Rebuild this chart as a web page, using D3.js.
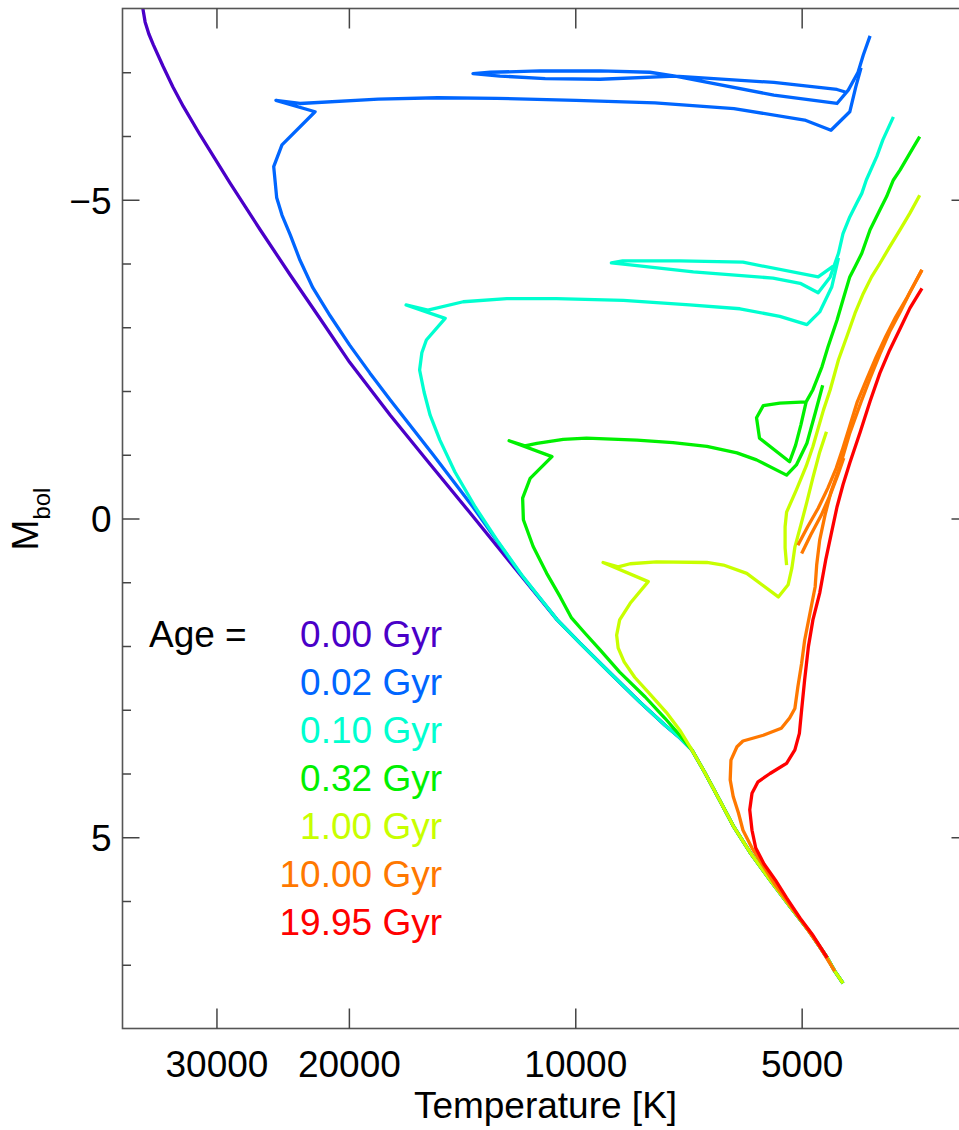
<!DOCTYPE html>
<html>
<head>
<meta charset="utf-8">
<script src="https://cdn.jsdelivr.net/npm/d3@7"></script>
<style>
body { margin: 0; background: #fff; }
text { font-family: "Liberation Sans", Arial, Helvetica, sans-serif; }
</style>
</head>
<body>
<div id="container"></div>
<script>
// isochrone ages and their colours
const ages = ["0.00", "0.02", "0.10", "0.32", "1.00", "10.00", "19.95"];
const colors = ["#4a00c8", "#0066ff", "#00ffd0", "#00f000", "#c8ff00", "#ff7800", "#ff0000"];

// axis ticks
const tempTicks = [30000, 20000, 10000, 5000];
const magMajor = [-5, 0, 5];
const magMinor = [-7, -6, -4, -3, -2, -1, 1, 2, 3, 4, 6, 7];

// log Teff / Mbol (low mass -> high mass)
// lower main sequence shared by the five youngest isochrones
const msLowT = [3.644, 3.655, 3.665, 3.688, 3.715, 3.741, 3.768, 3.790, 3.808, 3.828, 3.845];
const msLowM = [7.29, 7.10, 6.89, 6.49, 6.08, 5.67, 5.23, 4.82, 4.42, 3.98, 3.63];
// continuation shared by the three youngest
const msMidT = [3.861, 3.881, 3.914, 3.954, 3.994, 4.024];
const msMidM = [3.44, 3.24, 2.88, 2.42, 1.95, 1.59];

// 0.00 Gyr
const zamsT = [4.087, 4.140, 4.193, 4.246, 4.300, 4.339, 4.379, 4.419, 4.459, 4.499, 4.521, 4.535, 4.548, 4.561, 4.567, 4.572, 4.575];
const zamsM = [0.68, -0.09, -0.85, -1.62, -2.45, -3.13, -3.82, -4.53, -5.26, -6.02, -6.46, -6.77, -7.09, -7.43, -7.60, -7.79, -8.00];

// 0.02 Gyr
const a002T = [4.074, 4.136, 4.189, 4.246, 4.273, 4.300, 4.326, 4.349, 4.366, 4.379, 4.390, 4.397, 4.401, 4.390, 4.346, 4.398, 4.366, 4.262, 4.183, 4.104, 3.999, 3.894, 3.789, 3.695, 3.660, 3.635, 3.627, 3.620];
const a002M = [0.85, -0.18, -1.00, -1.86, -2.28, -2.72, -3.18, -3.62, -4.05, -4.45, -4.76, -5.03, -5.52, -5.86, -6.38, -6.56, -6.51, -6.58, -6.60, -6.59, -6.56, -6.52, -6.43, -6.25, -6.09, -6.38, -6.77, -7.07];
const a002bT = [3.641, 3.652, 3.736, 3.867, 3.967, 4.040, 4.100, 4.136, 4.113, 4.047, 3.967, 3.901, 3.867, 3.736, 3.652, 3.637, 3.624, 3.617, 3.608];
const a002bM = [-6.69, -6.73, -6.84, -6.94, -6.89, -6.90, -6.94, -6.98, -7.00, -7.02, -7.02, -7.00, -6.94, -6.64, -6.51, -6.72, -7.00, -7.27, -7.57];

// 0.10 Gyr
const a010T = [4.034, 4.071, 4.104, 4.133, 4.160, 4.180, 4.193, 4.201, 4.207, 4.204, 4.198, 4.173, 4.225, 4.196, 4.149, 4.091, 4.025, 3.936, 3.848, 3.781, 3.728, 3.692, 3.675, 3.659, 3.650];
const a010M = [1.44, 0.89, 0.34, -0.18, -0.73, -1.23, -1.62, -1.98, -2.33, -2.60, -2.80, -3.14, -3.35, -3.27, -3.40, -3.45, -3.45, -3.42, -3.35, -3.29, -3.17, -3.04, -3.24, -3.63, -4.09];
const a010bT = [3.657, 3.677, 3.777, 3.861, 3.937, 3.952, 3.927, 3.843, 3.737, 3.701, 3.677, 3.661, 3.650, 3.644, 3.635, 3.626, 3.619, 3.613, 3.599, 3.591, 3.577];
const a010bM = [-3.96, -3.79, -4.02, -4.04, -4.04, -4.01, -3.98, -3.87, -3.77, -3.69, -3.54, -3.79, -4.16, -4.47, -4.73, -4.94, -5.10, -5.31, -5.68, -5.94, -6.30];

// 0.32 Gyr
const a032T = [3.861, 3.881, 3.907, 3.941, 3.967, 3.987, 4.005, 4.020, 4.038, 4.056, 4.069, 4.070, 4.060, 4.031, 4.088, 4.067, 4.051, 4.016, 3.985, 3.918, 3.870, 3.825, 3.785, 3.759, 3.719, 3.706, 3.692, 3.681, 3.671];
const a032M = [3.40, 3.13, 2.80, 2.41, 2.06, 1.80, 1.56, 1.23, 0.86, 0.44, 0.02, -0.32, -0.63, -0.97, -1.22, -1.14, -1.18, -1.24, -1.26, -1.23, -1.19, -1.13, -1.03, -0.92, -0.68, -0.84, -1.18, -1.65, -2.09];
const a032bT = [3.693, 3.728, 3.750, 3.759, 3.755, 3.715, 3.707, 3.700, 3.693, 3.684, 3.672, 3.664, 3.652, 3.644, 3.635, 3.628, 3.619, 3.608, 3.595, 3.586, 3.577, 3.568, 3.555, 3.542];
const a032bM = [-1.83, -1.81, -1.77, -1.58, -1.26, -0.89, -1.15, -1.47, -1.83, -2.02, -2.38, -2.69, -3.11, -3.43, -3.79, -3.95, -4.16, -4.53, -4.84, -5.05, -5.31, -5.47, -5.73, -5.99];

// 1.00 Gyr
const a100T = [3.861, 3.879, 3.901, 3.921, 3.935, 3.943, 3.945, 3.941, 3.927, 3.903, 3.963, 3.943, 3.927, 3.892, 3.825, 3.803, 3.772, 3.730, 3.717, 3.712, 3.708, 3.700, 3.692, 3.684, 3.675, 3.666];
const a100M = [3.32, 3.04, 2.75, 2.49, 2.25, 2.03, 1.83, 1.59, 1.33, 0.99, 0.69, 0.76, 0.71, 0.68, 0.69, 0.73, 0.86, 1.23, 1.04, 0.78, 0.45, 0.10, -0.26, -0.64, -1.04, -1.36];
const a100bT = [3.719, 3.721, 3.721, 3.719, 3.706, 3.693, 3.684, 3.670, 3.661, 3.650, 3.639, 3.628, 3.617, 3.606, 3.595, 3.582, 3.568, 3.555, 3.542];
const a100bM = [0.73, 0.46, 0.13, -0.10, -0.45, -0.82, -1.13, -1.70, -2.02, -2.49, -2.85, -3.22, -3.53, -3.79, -4.00, -4.26, -4.53, -4.79, -5.07];

// 10.00 Gyr
const a10T = [3.655, 3.675, 3.695, 3.715, 3.734, 3.750, 3.765, 3.777, 3.783, 3.790, 3.794, 3.793, 3.785, 3.777, 3.750, 3.726, 3.715, 3.708, 3.704, 3.699, 3.695, 3.688, 3.681, 3.679, 3.675, 3.668, 3.660, 3.648, 3.635, 3.620, 3.608, 3.595, 3.582, 3.568, 3.555, 3.539];
const a10M = [7.10, 6.72, 6.38, 6.06, 5.75, 5.45, 5.17, 4.89, 4.62, 4.36, 4.10, 3.79, 3.58, 3.49, 3.40, 3.29, 3.13, 2.98, 2.64, 2.27, 1.91, 1.49, 1.07, 0.73, 0.34, -0.05, -0.42, -0.82, -1.34, -1.83, -2.20, -2.58, -2.93, -3.24, -3.55, -3.90];
const a10bT = [3.704, 3.691, 3.677, 3.664, 3.653, 3.644, 3.635, 3.625, 3.613, 3.600, 3.587, 3.574, 3.560, 3.550, 3.539];
const a10bM = [0.42, 0.13, -0.16, -0.48, -0.79, -1.11, -1.45, -1.83, -2.17, -2.53, -2.86, -3.16, -3.44, -3.66, -3.90];
const a10cT = [3.699, 3.687, 3.673, 3.661, 3.651, 3.643];
const a10cM = [0.55, 0.26, -0.05, -0.37, -0.68, -0.95];

// 19.95 Gyr
const a1995T = [3.665, 3.685, 3.701, 3.719, 3.734, 3.749, 3.760, 3.765, 3.768, 3.765, 3.757, 3.741, 3.719, 3.708, 3.702, 3.699, 3.695, 3.690, 3.684, 3.675, 3.667, 3.660, 3.652, 3.644, 3.635, 3.621, 3.608, 3.595, 3.582, 3.568, 3.555, 3.539];
const a1995M = [6.89, 6.52, 6.27, 5.95, 5.67, 5.42, 5.17, 4.89, 4.57, 4.31, 4.13, 4.00, 3.84, 3.63, 3.37, 3.00, 2.53, 2.01, 1.59, 1.17, 0.65, 0.26, -0.18, -0.53, -0.87, -1.36, -1.84, -2.28, -2.64, -2.98, -3.30, -3.61];

let w = 959;
let h = 1130;
let pLeft = 122.5, pRight = 968.5, pTop = 8.5, pBottom = 1028.5;

function pts(T, M) {
  return T.map((t, i) => [t, M[i]]);
}

// every isochrone is a list of drawn pieces
let isochrones = [
  [pts(msLowT.concat(msMidT, zamsT), msLowM.concat(msMidM, zamsM))],
  [pts(msLowT.concat(msMidT, a002T), msLowM.concat(msMidM, a002M)), pts(a002bT, a002bM)],
  [pts(msLowT.concat(msMidT, a010T), msLowM.concat(msMidM, a010M)), pts(a010bT, a010bM)],
  [pts(msLowT.concat(a032T), msLowM.concat(a032M)), pts(a032bT, a032bM)],
  [pts(msLowT.concat(a100T), msLowM.concat(a100M)), pts(a100bT, a100bM)],
  [pts(a10T, a10M), pts(a10bT, a10bM), pts(a10cT, a10cM)],
  [pts(a1995T, a1995M)]
];

let svg = d3.select("#container").append("svg")
  .attr("width", w)
  .attr("height", h)
  .style("display", "block")
  .style("background-color", "#ffffff");

let x = d3.scaleLog().domain([40000, 3000]).range([pLeft, pRight]);
let y = d3.scaleLinear().domain([-8, 8]).range([pTop, pBottom]);

svg.append("clipPath").attr("id", "plotArea")
  .append("rect")
  .attr("x", pLeft).attr("y", pTop)
  .attr("width", pRight - pLeft).attr("height", pBottom - pTop);

let lineMaker = d3.line()
  .x(d => x(Math.pow(10, d[0])))
  .y(d => y(d[1]));

svg.append("g")
  .attr("clip-path", "url(#plotArea)")
  .selectAll(".iso").data(isochrones).enter()
  .append("g")
    .attr("class", "iso")
    .attr("stroke", (d, i) => colors[i])
  .selectAll("path").data(d => d).enter()
  .append("path")
    .attr("d", lineMaker)
    .attr("fill", "none")
    .attr("stroke-width", 3.3)
    .attr("stroke-linejoin", "round");

// frame
svg.append("rect")
  .attr("x", pLeft).attr("y", pTop)
  .attr("width", pRight - pLeft).attr("height", pBottom - pTop)
  .attr("fill", "none")
  .attr("stroke", "#555")
  .attr("stroke-width", 1.6);

function styleAxis(g) {
  g.select(".domain").remove();
  g.selectAll(".tick line").attr("stroke", "#444").attr("stroke-width", 1.5);
  g.selectAll(".tick text")
    .attr("fill", "#000")
    .style("font-size", "37px")
    .style("font-family", "'Liberation Sans', Arial, Helvetica, sans-serif");
}

svg.append("g")
  .attr("transform", `translate(0,${pBottom})`)
  .call(d3.axisBottom(x).tickValues(tempTicks).tickFormat(d3.format("d"))
    .tickSizeInner(-20).tickSizeOuter(0).tickPadding(22))
  .call(styleAxis);

svg.append("g")
  .attr("transform", `translate(0,${pTop})`)
  .call(d3.axisTop(x).tickValues(tempTicks).tickFormat("")
    .tickSizeInner(-20).tickSizeOuter(0))
  .call(styleAxis);

svg.append("g")
  .attr("transform", `translate(${pLeft},0)`)
  .call(d3.axisLeft(y).tickValues(magMajor).tickFormat(d3.format("d"))
    .tickSizeInner(-17).tickSizeOuter(0).tickPadding(11))
  .call(styleAxis)
  .call(g => g.selectAll(".tick text").attr("dy", "0.36em"));

svg.append("g")
  .attr("transform", `translate(${pLeft},0)`)
  .call(d3.axisLeft(y).tickValues(magMinor).tickFormat("")
    .tickSizeInner(-8.5).tickSizeOuter(0))
  .call(styleAxis);

svg.append("g")
  .attr("transform", `translate(${pRight},0)`)
  .call(d3.axisRight(y).tickValues(magMajor).tickFormat("")
    .tickSizeInner(-17).tickSizeOuter(0))
  .call(styleAxis);

svg.append("g")
  .attr("transform", `translate(${pRight},0)`)
  .call(d3.axisRight(y).tickValues(magMinor).tickFormat("")
    .tickSizeInner(-8.5).tickSizeOuter(0))
  .call(styleAxis);

// axis titles
svg.append("text")
  .attr("x", (pLeft + pRight) / 2)
  .attr("y", 1118)
  .attr("text-anchor", "middle")
  .style("font-size", "37px")
  .text("Temperature [K]");

let ytitle = svg.append("text")
  .attr("transform", "translate(38,519) rotate(-90)")
  .attr("text-anchor", "middle")
  .style("font-size", "37px");
ytitle.append("tspan").text("M");
ytitle.append("tspan").attr("dy", 12).style("font-size", "24px").text("bol");

// legend
let legendTop = 646.7;
let legendStep = 48.05;

svg.append("text")
  .attr("x", 149)
  .attr("y", legendTop)
  .style("font-size", "37px")
  .text("Age =");

svg.selectAll(".agelabel").data(ages).enter()
  .append("text")
    .attr("class", "agelabel")
    .attr("x", 442)
    .attr("y", (d, i) => legendTop + i * legendStep)
    .attr("text-anchor", "end")
    .attr("fill", (d, i) => colors[i])
    .style("font-size", "37px")
    .text(d => d + " Gyr");
</script>
</body>
</html>
